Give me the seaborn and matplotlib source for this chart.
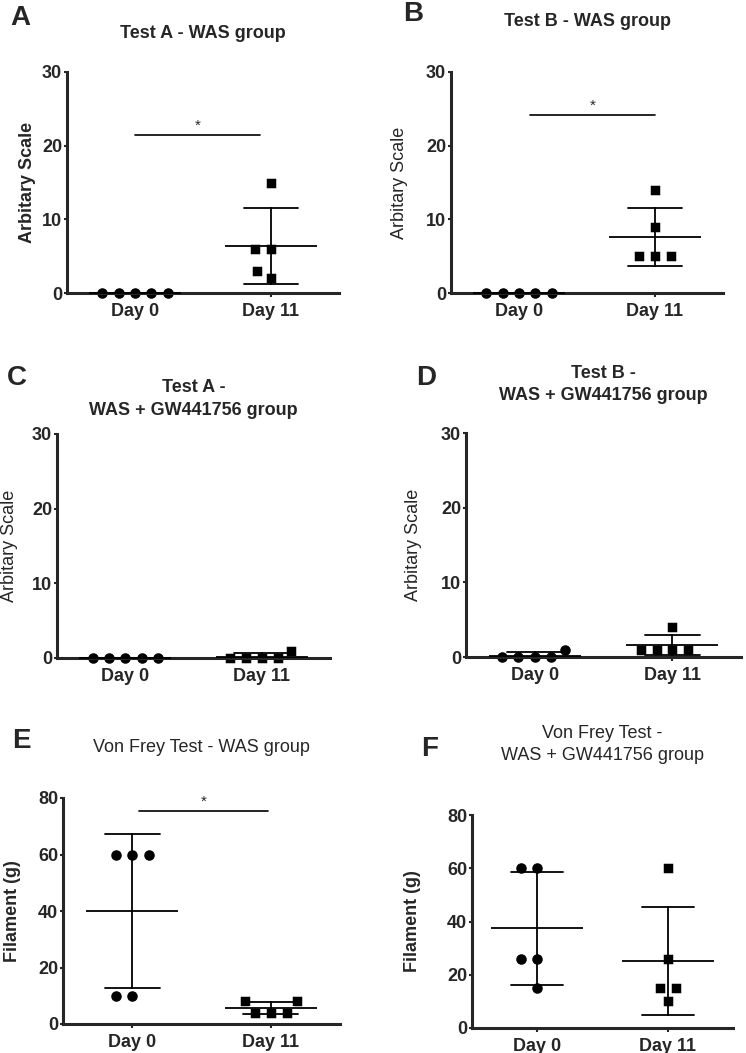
import pandas as pd
import seaborn as sns
import matplotlib.pyplot as plt

days = ["Day 0", "Day 11"]

# Test A / Test B scores (arbitrary scale), 5 animals per day
test_a_was_day0 = [0, 0, 0, 0, 0]
test_a_was_day11 = [15, 6, 6, 3, 2]
test_b_was_day0 = [0, 0, 0, 0, 0]
test_b_was_day11 = [14, 9, 5, 5, 5]
test_a_gw_day0 = [0, 0, 0, 0, 0]
test_a_gw_day11 = [1, 0, 0, 0, 0]
test_b_gw_day0 = [1, 0, 0, 0, 0]
test_b_gw_day11 = [4, 1, 1, 1, 1]

# Von Frey filament (g)
von_frey_was_day0 = [60, 60, 60, 10, 10]
von_frey_was_day11 = [8, 8, 4, 4, 4]
von_frey_gw_day0 = [60, 60, 26, 26, 15]
von_frey_gw_day11 = [60, 26, 15, 15, 10]

# significance bars: (from, to, height, label)
sig_a = (0.0, 0.92, 21.4, "*")
sig_b = (0.08, 1.0, 24.2, "*")
sig_e = (0.05, 0.98, 75.4, "*")

W, H = 746, 1053

sns.set_style("ticks")
plt.rcParams['font.family'] = ['Liberation Sans', 'DejaVu Sans']
plt.rcParams['font.size'] = 13

fig = plt.figure(figsize=(W / 100, H / 100), dpi=100)


def px_rect(x0, x1, y0, y1):
    return [x0 / W, 1 - y1 / H, (x1 - x0) / W, (y1 - y0) / H]


def make_df(day0, day11):
    return pd.DataFrame({'day': [days[0]] * len(day0) + [days[1]] * len(day11),
                         'value': list(day0) + list(day11)})


panels = [
    dict(letter="A", lxy=(10, 18), title="Test A - WAS group", ty=[33], tw='bold',
         rect=(67, 339, 72, 293), ylabel="Arbitary Scale", yw='bold', lpad=4,
         ymax=30, step=10, day0=test_a_was_day0, day11=test_a_was_day11, sig=sig_a),
    dict(letter="B", lxy=(403, 14), title="Test B - WAS group", ty=[22], tw='bold',
         rect=(451, 723, 72, 293), ylabel="Arbitary Scale", yw='normal', lpad=13,
         ymax=30, step=10, day0=test_b_was_day0, day11=test_b_was_day11, sig=sig_b),
    dict(letter="C", lxy=(7, 378), title="Test A -\nWAS + GW441756 group", ty=[387, 410], tw='bold',
         rect=(57, 330, 434, 658), ylabel="Arbitary Scale", yw='normal', lpad=10,
         ymax=30, step=10, day0=test_a_gw_day0, day11=test_a_gw_day11, sig=None),
    dict(letter="D", lxy=(416, 378), title="Test B -\nWAS + GW441756 group", ty=[373, 396], tw='bold',
         rect=(466, 741, 433, 657), ylabel="Arbitary Scale", yw='normal', lpad=14,
         ymax=30, step=10, day0=test_b_gw_day0, day11=test_b_gw_day11, sig=None),
    dict(letter="E", lxy=(12, 741), title="Von Frey Test - WAS group", ty=[747], tw='normal',
         rect=(63, 340, 798, 1024), ylabel="Filament (g)", yw='bold', lpad=12,
         ymax=80, step=20, day0=von_frey_was_day0, day11=von_frey_was_day11, sig=sig_e),
    dict(letter="F", lxy=(421, 749), title="Von Frey Test -\nWAS + GW441756 group", ty=[733, 755], tw='normal',
         rect=(472, 733, 815, 1028), ylabel="Filament (g)", yw='bold', lpad=19,
         ymax=80, step=20, day0=von_frey_gw_day0, day11=von_frey_gw_day11, sig=None),
]

for p in panels:
    x0, x1, y0, y1 = p['rect']
    ax = fig.add_axes(px_rect(x0, x1, y0, y1))
    df = make_df(p['day0'], p['day11'])

    # individual animals, spread like a GraphPad scatter
    sns.swarmplot(data=df[df['day'] == days[0]], x='day', y='value', order=days,
                  marker='o', size=9.4, color='black', edgecolor='white', linewidth=1.8,
                  clip_on=False, zorder=1, ax=ax)
    sns.swarmplot(data=df[df['day'] == days[1]], x='day', y='value', order=days,
                  marker='s', size=9.0, color='black', edgecolor='white', linewidth=1.8,
                  clip_on=False, zorder=1, ax=ax)

    # mean +/- SD
    sns.pointplot(data=df, x='day', y='value', order=days, errorbar='sd', capsize=0.4,
                  color='black', linestyle='none', marker='_', markersize=66,
                  markeredgewidth=1.3, err_kws={'linewidth': 1.3}, ax=ax)
    for ln in ax.lines:
        ln.set_zorder(3)

    ax.set_xlim(-0.5, 1.5)
    ax.set_ylim(0, p['ymax'])
    ax.set_yticks(range(0, p['ymax'] + 1, p['step']))
    ax.set_xticks([0, 1])
    ax.set_xticklabels(days, fontweight='bold', fontsize=13)
    for t in ax.get_yticklabels():
        t.set_fontweight('bold')
        t.set_fontsize(13)
    ax.set_xlabel('')
    ax.set_ylabel(p['ylabel'], fontweight=p['yw'], fontsize=13, labelpad=p['lpad'])
    sns.despine(ax=ax)
    for s in ['left', 'bottom']:
        ax.spines[s].set_linewidth(2.2)
    ax.tick_params(axis='y', length=2.5, width=1.5, pad=1)
    ax.tick_params(axis='x', length=3, width=1.5, pad=4)

    if p['sig'] is not None:
        a, b, h, lab = p['sig']
        ax.plot([a, b], [h, h], color='black', linewidth=1.2)
        ax.text((a + b) / 2, h + p['ymax'] * 0.01, lab, ha='center', va='bottom', fontsize=11)

    cx = (x0 + x1) / 2 / W
    lines = p['title'].split('\n')
    for line, ty in zip(lines, p['ty']):
        fig.text(cx, 1 - ty / H, line, ha='center', va='center', fontsize=13,
                 fontweight=p['tw'])
    lx, ly = p['lxy']
    fig.text(lx / W, 1 - ly / H, p['letter'], ha='left', va='center', fontsize=20,
             fontweight='bold')

fig.savefig('out.png', dpi=100)
